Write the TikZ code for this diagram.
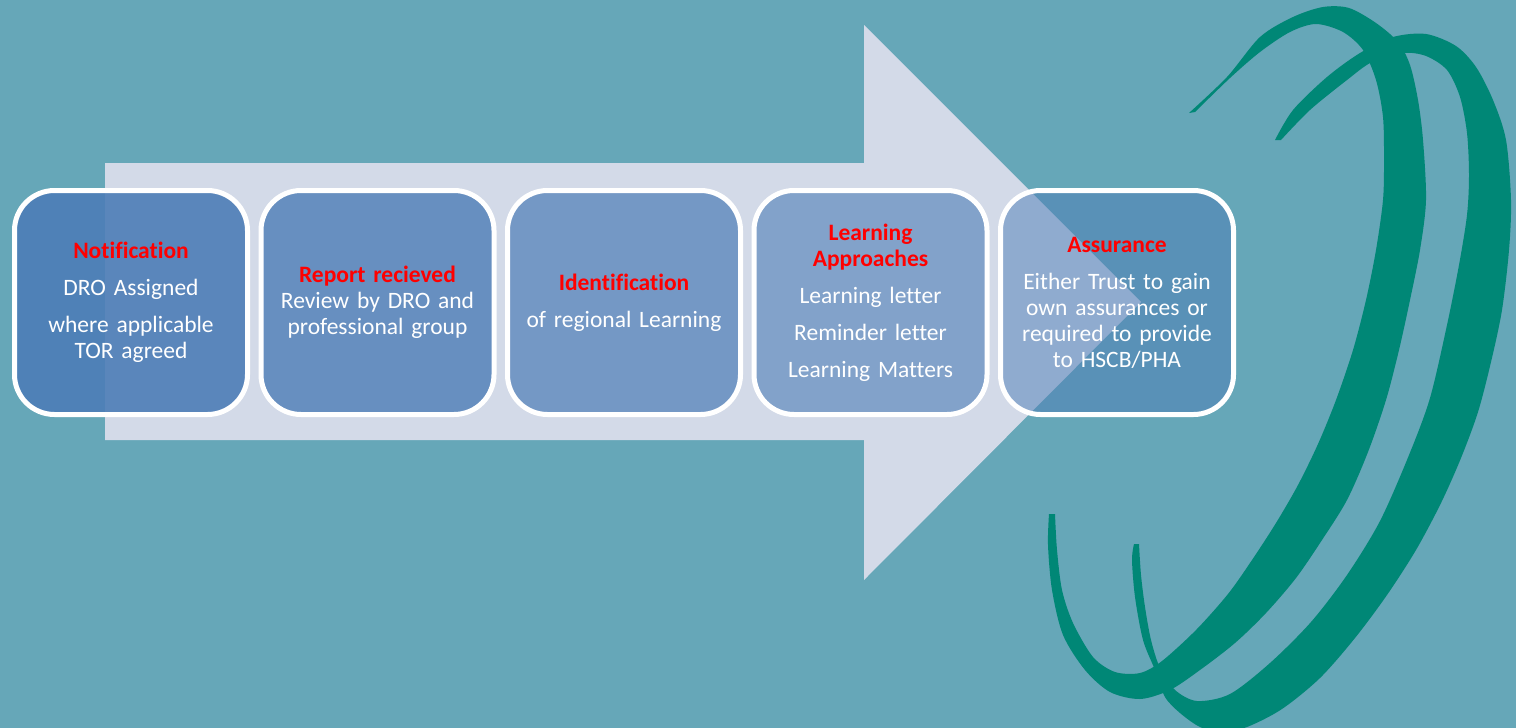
\documentclass[tikz,border=0pt]{standalone}
\usepackage{fontspec}
\setmainfont{Carlito}[Ligatures={NoCommon}]
\usepackage{xcolor}
\usetikzlibrary{positioning}

\definecolor{sea}{RGB}{102,167,184}
\definecolor{pale}{RGB}{211,218,232}
\definecolor{stageblue}{RGB}{77,125,183}
\definecolor{swirl}{RGB}{0,135,118}
\definecolor{headred}{RGB}{255,0,0}

\newcommand{\hd}[1]{\textcolor{headred}{\textbf{#1}}}

\tikzset{
  stage/.style={draw=white, line width=5pt, rounded corners=40pt, fill=stageblue,
    text opacity=1, minimum width=233pt, minimum height=224pt, inner sep=0pt,
    text width=228pt, align=center, text=white,
    font=\fontsize{23.5}{26}\selectfont},
}

\begin{document}
\begin{tikzpicture}[x=1pt, y=-1pt, node distance=8.5pt]
        \fill[sea] (0,0) rectangle (1516,728);
        \useasboundingbox (0,0) rectangle (1516,728);
        % big arrow behind the steps
        \fill[pale] (105,163) -- (864,163) -- (864,25) -- (1141,302) -- (864,580) -- (864,440) -- (105,440) -- cycle;
        % the two swirls
        \fill[swirl] plot[smooth] coordinates {(1189,113) (1227,77) (1260,37) (1293,17) (1323,7) (1349,8) (1376,23) (1398,42) (1410,65) (1418,100) (1423,140) (1426,200) (1420,250) (1410,300) (1399,350) (1386,400) (1368,452) (1347,500) (1322,540) (1296,578) (1266,613) (1235,643) (1200,670) (1170,690) (1140,699) (1110,692) (1085,670) (1063,635) (1052,590) (1048,545) (1049,514)}
          -- plot[smooth] coordinates {(1055,514) (1057,550) (1062,590) (1073,623) (1093,657) (1115,672) (1140,673) (1162,661) (1196,630) (1228,594) (1252,560) (1276,523) (1298,485) (1318,444) (1336,400) (1353,350) (1366,300) (1376,250) (1383,200) (1384,160) (1383,117) (1376,80) (1363,50) (1343,32) (1316,24) (1290,32) (1260,52) (1230,78) (1195,112)} -- cycle;
        \fill[swirl] plot[smooth] coordinates {(1275,140) (1293,110) (1327,77) (1360,53) (1393,37) (1426,34) (1456,46) (1476,67) (1493,100) (1506,140) (1511,200) (1509,250) (1502,310) (1491,362) (1478,412) (1461,458) (1441,503) (1416,550) (1387,595) (1355,638) (1320,678) (1282,709) (1247,727) (1222,732) (1200,727) (1180,713) (1165,697) (1155,670) (1143,640) (1135,597) (1132,560) (1134,544)}
          -- plot[smooth] coordinates {(1139,544) (1141,575) (1145,607) (1151,640) (1160,668) (1175,690) (1197,701) (1230,694) (1270,663) (1311,622) (1347,575) (1380,521) (1409,455) (1430,398) (1447,325) (1459,265) (1467,215) (1469,175) (1467,133) (1460,97) (1447,70) (1426,56) (1403,53) (1372,62) (1347,80) (1310,110) (1281,140)} -- cycle;
        % steps
        \node[stage, fill opacity=0.9] (notif) at (131,302.5) {\hd{Notification}\\[11pt] DRO Assigned\\[11pt] where applicable\\ TOR agreed};
        \node[stage, fill opacity=0.8, right=of notif] (report) {\hd{Report recieved}\\ Review by DRO and\\ professional group};
        \node[stage, fill opacity=0.7, right=of report] (ident) {\hd{Identification}\\[11pt] of regional Learning};
        \node[stage, fill opacity=0.6, right=of ident] (approach) {\hd{Learning}\\ \hd{Approaches}\\[11pt] Learning letter\\[11pt] Reminder letter\\[11pt] Learning Matters};
        \node[stage, fill opacity=0.5, right=of approach] (assure) {\hd{Assurance}\\[11pt] Either Trust to gain\\ own assurances or\\ required to provide\\ to HSCB/PHA};
\end{tikzpicture}
\end{document}
